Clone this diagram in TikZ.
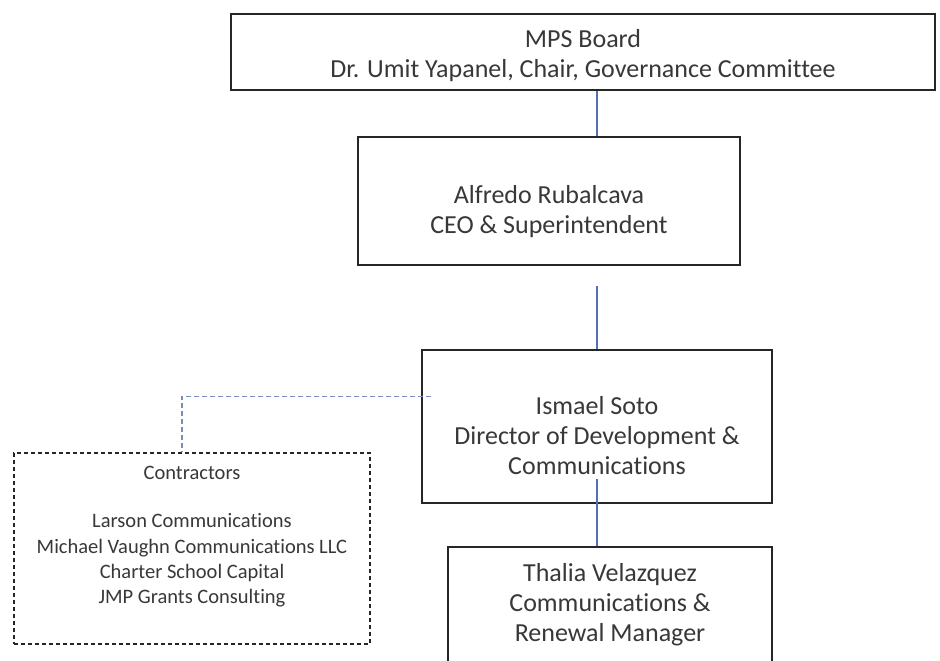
\documentclass[tikz,border=0pt]{standalone}
\usepackage{fontspec}
\setmainfont[Ligatures=NoCommon]{Carlito}
\usetikzlibrary{positioning}
\definecolor{linkblue}{RGB}{84,112,182}
\definecolor{dashblue}{RGB}{120,140,190}

\begin{document}
\begin{tikzpicture}[x=1pt,y=-1pt]
	\tikzstyle{unit}    = [rectangle, draw=black!85, line width=1.4pt, fill=white, inner sep=0pt]
	\tikzstyle{caption} = [align=center, text=black!78, inner sep=0pt, font=\fontsize{26}{30}\selectfont]
	\tikzstyle{small}   = [align=center, text=black!78, inner sep=0pt, font=\fontsize{20.5}{25.3}\selectfont]
	\tikzstyle{link}    = [draw=linkblue, line width=1.6pt]

	\useasboundingbox (0,0) rectangle (940,661);
	\clip (0,0) rectangle (940,661);

	% boxes
	\node[unit, minimum width=704pt, minimum height=76pt] (board) at (583,52) {};
	\node[unit, line width=1.8pt, minimum width=382pt, minimum height=128pt] (ceo) at (549,201) {};
	\node[unit, line width=1.8pt, minimum width=350pt, minimum height=153pt] (soto) at (597,426.5) {};
	\node[unit, minimum width=324pt, minimum height=160pt] (thalia) at (610,627) {};
	\node[unit, dash pattern=on 4pt off 3pt, line width=1.6pt, minimum width=356pt, minimum height=191pt] (contractors) at (192,548.5) {};

	% texts
	\node[caption] (boardtxt) at ([yshift=-4pt]board.center) {MPS Board\\Dr. Umit Yapanel, Chair, Governance Committee};
	\node[caption] (ceotxt) at ([yshift=-11pt]ceo.center) {Alfredo Rubalcava\\CEO \& Superintendent};
	\node[caption] (sototxt) at ([yshift=-9pt]soto.center) {Ismael Soto\\Director of Development \&\\Communications};
	\node[caption] (thaliatxt) at (610,605) {Thalia Velazquez\\Communications \&\\Renewal Manager};
	\node[small] (contxt) at ([yshift=11.5pt]contractors.center) {Contractors\\[22.7pt]Larson Communications\\Michael Vaughn Communications LLC\\Charter School Capital\\JMP Grants Consulting};

	% connectors
	\draw[link] (board.south -| soto.north) -- (ceo.north -| soto.north);
	\draw[link] ([yshift=-20pt]ceo.south -| soto.north) -- (soto.north);
	\draw[link] ([yshift=25pt]soto.south) -- (thalia.north -| soto.south);
	\draw[draw=dashblue, line width=1.3pt, dash pattern=on 5pt off 3pt] ([xshift=10pt,yshift=30pt]soto.west) -| ([xshift=-10pt]contractors.north);
\end{tikzpicture}
\end{document}
